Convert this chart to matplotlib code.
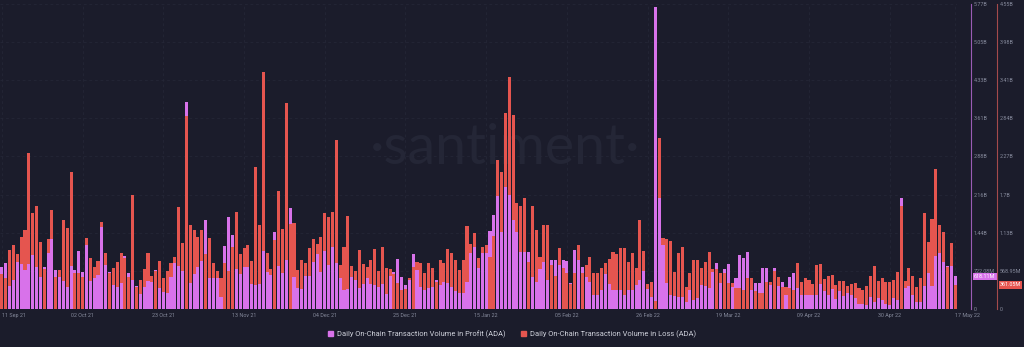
import matplotlib
matplotlib.use("Agg")
import matplotlib.pyplot as plt
import matplotlib.transforms as mtransforms
from matplotlib.patches import Patch
import numpy as np

# Daily on-chain transaction volume (ADA), in millions, 11 Sep 21 .. 17 May 22
profit = [
    801, 866, 436, 549, 890, 852, 739, 852, 1023, 790,
    600, 790, 1066, 1320, 739, 612, 530, 411, 814, 739,
    1099, 706, 1212, 530, 581, 644, 1559, 833, 706, 455,
    411, 498, 1004, 688, 549, 436, 284, 411, 530, 517,
    739, 392, 328, 297, 612, 877, 814, 725, 3921, 487,
    663, 801, 915, 1686, 581, 581, 581, 227, 1193, 1748,
    1402, 752, 663, 790, 790, 474, 455, 474, 1104, 706,
    644, 1464, 814, 676, 928, 1907, 600, 392, 373, 625,
    625, 896, 1042, 706, 1104, 833, 1169, 877, 581, 360,
    373, 612, 549, 392, 474, 581, 474, 455, 422, 474,
    284, 625, 706, 941, 600, 449, 549, 1042, 739, 411,
    360, 392, 422, 549, 455, 517, 487, 422, 347, 309,
    297, 517, 1055, 1169, 771, 1055, 1055, 1483, 1780, 2140,
    1464, 2316, 2159, 1686, 1464, 1085, 1085, 1085, 600, 517,
    752, 896, 549, 928, 928, 833, 928, 915, 487, 1117,
    928, 801, 600, 517, 265, 265, 360, 663, 474, 360,
    360, 360, 265, 360, 360, 455, 549, 725, 373, 233,
    5725, 2097, 1212, 487, 265, 252, 222, 233, 138, 360,
    170, 203, 455, 436, 392, 706, 866, 498, 752, 847,
    411, 581, 1023, 960, 1085, 360, 498, 498, 771, 771,
    455, 771, 436, 517, 265, 612, 688, 392, 265, 265,
    265, 265, 265, 474, 335, 265, 384, 195, 347, 252,
    309, 265, 203, 95, 95, 81, 233, 138, 203, 170,
    95, 81, 203, 170, 2097, 392, 436, 265, 138, 138,
    436, 676, 436, 1004, 1055, 896, 814, 814, 618.11,
]
loss = [
    522, 458, 880, 955, 816, 1070, 1179, 2328, 1428, 1537,
    1004, 597, 1040, 1477, 482, 582, 1328, 1213, 2044, 533,
    533, 482, 1055, 756, 622, 721, 1303, 840, 533, 607,
    706, 831, 756, 482, 1696, 324, 433, 592, 840, 492,
    571, 716, 458, 567, 682, 780, 1517, 980, 2880, 1253,
    1179, 1079, 1179, 821, 1055, 682, 571, 458, 691, 571,
    921, 1443, 821, 915, 955, 716, 2114, 1253, 3541, 831,
    601, 1029, 1761, 1194, 3069, 1268, 1279, 582, 731, 682,
    906, 1040, 965, 1079, 1428, 1377, 1452, 2521, 656, 921,
    1388, 642, 571, 880, 671, 631, 731, 891, 567, 930,
    607, 597, 522, 392, 283, 294, 467, 622, 706, 682,
    533, 691, 607, 407, 731, 682, 891, 840, 731, 582,
    731, 1243, 970, 1138, 756, 921, 955, 780, 1089, 2223,
    2049, 2920, 3457, 2894, 1577, 1541, 1652, 697, 1541, 1179,
    780, 1258, 1258, 656, 492, 906, 607, 533, 373, 533,
    955, 533, 656, 780, 533, 533, 607, 691, 742, 855,
    821, 906, 906, 706, 831, 607, 1328, 870, 373, 407,
    119, 2547, 1055, 1044, 1019, 557, 840, 930, 324, 542,
    731, 731, 616, 706, 846, 592, 592, 533, 542, 392,
    392, 309, 309, 283, 458, 458, 273, 234, 234, 407,
    407, 571, 482, 333, 333, 309, 283, 682, 407, 467,
    433, 369, 656, 671, 443, 492, 507, 358, 422, 418,
    343, 369, 383, 309, 283, 343, 492, 646, 422, 458,
    407, 407, 433, 557, 1537, 418, 616, 492, 333, 458,
    1437, 1004, 1343, 2084, 1253, 1153, 631, 980, 361.05,
]

x_tick_idx = [0, 21, 42, 63, 84, 105, 126, 147, 168, 189, 210, 231, 248]
x_tick_labels = ["11 Sep 21", "02 Oct 21", "23 Oct 21", "13 Nov 21", "04 Dec 21",
                 "25 Dec 21", "15 Jan 22", "05 Feb 22", "26 Feb 22", "19 Mar 22",
                 "09 Apr 22", "30 Apr 22", "17 May 22"]

profit_ticks = [0, 722.08, 1444.16, 2166.24, 2888.32, 3610.4, 4332.48, 5054.56, 5776.64]
profit_tick_labels = ["0", "722.08M", "1.44B", "2.16B", "2.88B", "3.61B", "4.33B", "5.05B", "5.77B"]
loss_ticks = [0, 568.95, 1137.9, 1706.85, 2275.8, 2844.75, 3413.7, 3982.65, 4551.6]
loss_tick_labels = ["0", "568.95M", "1.13B", "1.7B", "2.27B", "2.84B", "3.41B", "3.98B", "4.55B"]

BG = "#1b1c2b"
PINK = "#d872ea"
RED = "#e5554f"
GREY = "#868a9c"

plt.rcParams['font.family'] = ['Roboto', 'DejaVu Sans']

profit = np.array(profit)
loss = np.array(loss)
x = np.arange(len(profit))
pmax = profit_ticks[-1]
lmax = loss_ticks[-1]

# the shorter bar of each day is drawn in front
loss_taller = loss / lmax >= profit / pmax

fig = plt.figure(figsize=(10.24, 3.47), dpi=100, facecolor=BG)
W = 957 / 1024
ax_lb = fig.add_axes([0, 38 / 347, W, 305 / 347])
ax_p = ax_lb.twinx()
ax_lf = ax_lb.twinx()
ax_lb.set_zorder(1)
ax_p.set_zorder(2)
ax_lf.set_zorder(3)
ax_lb.set_facecolor(BG)
for a in (ax_p, ax_lf):
    a.patch.set_visible(False)

bw = 0.8
ax_lb.bar(x[loss_taller], loss[loss_taller], width=bw, color=RED, linewidth=0, antialiased=False)
ax_p.bar(x, profit, width=bw, color=PINK, linewidth=0, antialiased=False)
ax_lf.bar(x[~loss_taller], loss[~loss_taller], width=bw, color=RED, linewidth=0, antialiased=False)

for a in (ax_lb, ax_p, ax_lf):
    a.set_xlim(-0.5, len(x) - 0.5)
    for s in a.spines.values():
        s.set_visible(False)
ax_lb.set_ylim(0, lmax)
ax_lf.set_ylim(0, lmax)
ax_p.set_ylim(0, pmax)

# grid + x ticks on the back axes
ax_lb.set_yticks(loss_ticks)
ax_lb.tick_params(axis='y', left=False, labelleft=False)
ax_lb.set_xticks(x_tick_idx)
ax_lb.set_xticklabels(x_tick_labels)
ax_lb.tick_params(axis='x', length=0, pad=3, labelsize=3.9, labelcolor=GREY)
xt = ax_lb.get_xticklabels()
xt[0].set_ha('left')
xt[-1].set_ha('left')
ax_lb.grid(True, color="#262838", linestyle=(0, (4, 4)), linewidth=0.5)
ax_lb.set_axisbelow(True)

ax_lb.text(0.528, 0.525, "\u00b7santiment\u00b7", transform=ax_lb.transAxes, ha='center', va='center',
           fontsize=40, color="#242636", family='Lato', zorder=0)

# profit axis
ax_p.spines['right'].set_visible(True)
ax_p.spines['right'].set_position(('axes', 971 / 957))
ax_p.spines['right'].set_color("#9a5cb4")
ax_p.spines['right'].set_linewidth(0.8)
ax_p.set_yticks(profit_ticks)
ax_p.set_yticklabels(profit_tick_labels)
ax_p.tick_params(axis='y', length=0, pad=2.2, labelsize=3.9, labelcolor=GREY)

# loss axis
ax_lf.spines['right'].set_visible(True)
ax_lf.spines['right'].set_position(('axes', 997 / 957))
ax_lf.spines['right'].set_color("#a54a4c")
ax_lf.spines['right'].set_linewidth(0.8)
ax_lf.set_yticks(loss_ticks)
ax_lf.set_yticklabels(loss_tick_labels)
ax_lf.tick_params(axis='y', length=0, pad=2.2, labelsize=3.9, labelcolor=GREY)

# latest value badges
tp = mtransforms.blended_transform_factory(ax_p.transAxes, ax_p.transData)
ax_p.text(974 / 957, profit[-1], "%.2fM" % profit[-1], transform=tp, ha='left', va='center',
          fontsize=3.9, color='white', clip_on=False,
          bbox=dict(boxstyle='square,pad=0.25', fc=PINK, ec='none'))
tl = mtransforms.blended_transform_factory(ax_lf.transAxes, ax_lf.transData)
ax_lf.text(1000 / 957, loss[-1], "%.2fM" % loss[-1], transform=tl, ha='left', va='center',
           fontsize=3.9, color='white', clip_on=False,
           bbox=dict(boxstyle='square,pad=0.25', fc=RED, ec='none'))

handles = [Patch(color=PINK, label="Daily On-Chain Transaction Volume in Profit (ADA)"),
           Patch(color=RED, label="Daily On-Chain Transaction Volume in Loss (ADA)")]
fig.legend(handles=handles, loc='center', bbox_to_anchor=(512 / 1024, 1 - 334 / 347), ncol=2,
           frameon=False, fontsize=5.45, labelcolor="#d0d2dc", handlelength=0.7, handleheight=0.7,
           handletextpad=0.5, columnspacing=2.0)

fig.savefig("out.png", dpi=100, facecolor=BG)
